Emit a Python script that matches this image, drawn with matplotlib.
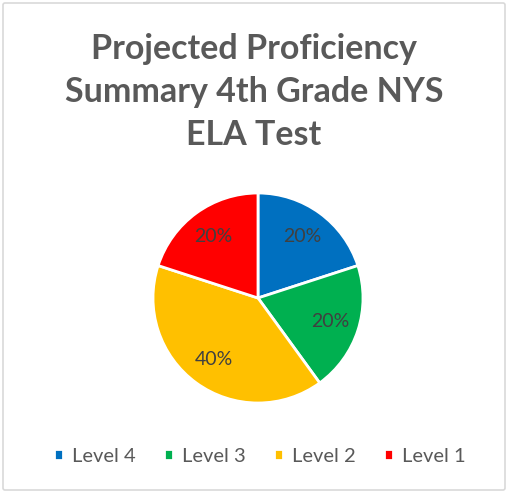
import matplotlib.pyplot as plt
from matplotlib.patches import FancyBboxPatch

labels = ["Level 4", "Level 3", "Level 2", "Level 1"]
values = [20, 20, 40, 20]
colors = ["#0070C0", "#00B050", "#FFC000", "#FF0000"]
title = "Projected Proficiency\nSummary 4th Grade NYS\nELA Test"

plt.rcParams["font.family"] = ["Lato", "DejaVu Sans"]

fig = plt.figure(figsize=(5.08, 4.94), dpi=100)

# chart border
fig.patches.append(FancyBboxPatch(
    (3 / 508, 4 / 494), 502 / 508, 487 / 494,
    boxstyle="round,pad=0,rounding_size=0.004",
    transform=fig.transFigure, facecolor="white",
    edgecolor="#D9D9D9", linewidth=1.2, zorder=-1))

fig.text(0.5, 1 - 92 / 494, title, ha="center", va="center",
         fontsize=24.5, fontweight="bold", color="#595959",
         linespacing=1.42)

ax = fig.add_axes([(258 - 110) / 508, (494 - 298 - 110) / 494,
                   220 / 508, 220 / 494])
wedges, texts, autotexts = ax.pie(
    values, colors=colors, startangle=90, counterclock=False,
    radius=1.05, autopct="%1.0f%%", pctdistance=0.72,
    wedgeprops=dict(edgecolor="white", linewidth=2),
    textprops=dict(color="#404040", fontsize=14))
ax.set_xlim(-1.1, 1.1)
ax.set_ylim(-1.1, 1.1)
ax.set_aspect("equal")
ax.axis("off")

fig.legend(wedges, labels, loc="center", bbox_to_anchor=(0.512, 1 - 456 / 494),
           ncol=4, frameon=False, fontsize=14.5, labelcolor="#595959",
           handlelength=0.45, handleheight=0.45, handletextpad=0.45,
           columnspacing=1.4)

fig.savefig("out.png", dpi=100)
